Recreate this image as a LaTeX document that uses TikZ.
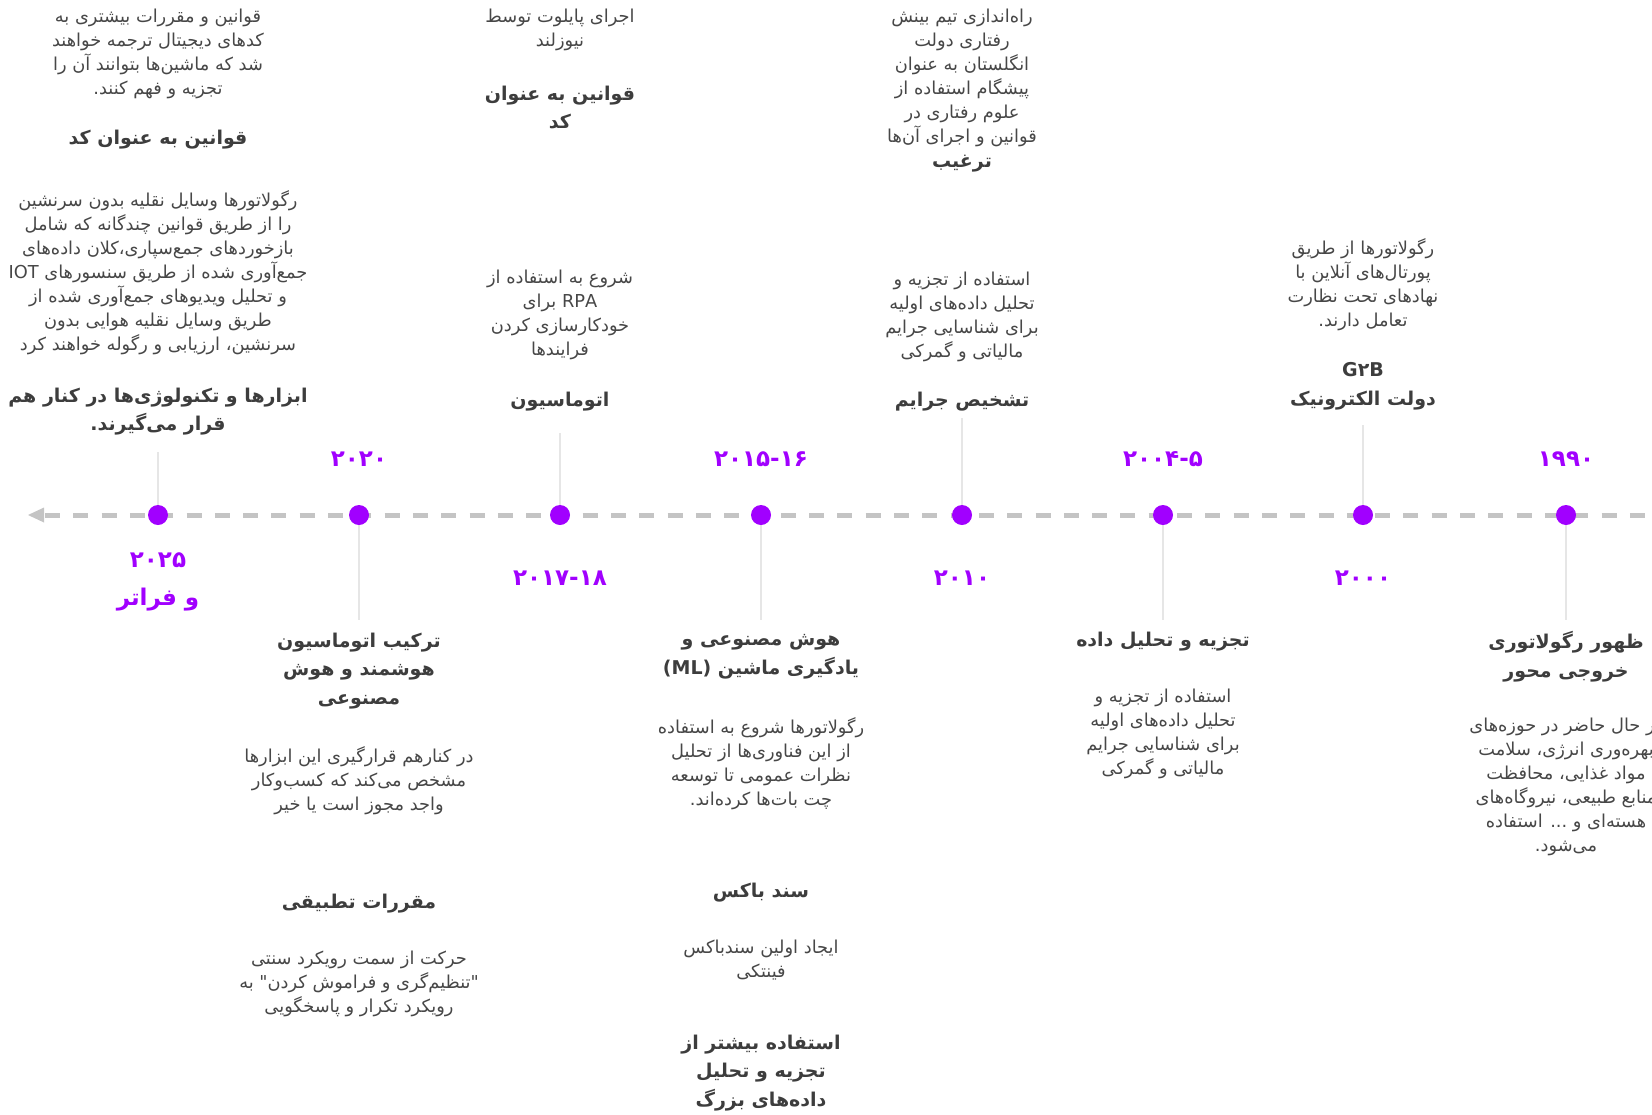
\documentclass[tikz,border=0pt]{standalone}
\usepackage{fontspec}
\TeXXeTstate=1
\newfontfamily\ar[Script=Arabic]{DejaVu Sans}
\definecolor{purp}{HTML}{A100FF}
\definecolor{axisgray}{HTML}{C4C4C4}
\definecolor{vgray}{HTML}{E6E6E6}
\definecolor{titlegray}{HTML}{3D3D3D}
\definecolor{bodygray}{HTML}{474747}
\newcommand\RL[1]{\beginR #1\endR}
\begin{document}
\begin{tikzpicture}[x=1pt,y=-1pt,
  body/.style={font=\ar\fontsize{17.8}{24}\selectfont, text=bodygray, align=center, inner sep=0pt},
  ttl/.style={font=\ar\bfseries\fontsize{19}{28.8}\selectfont, text=titlegray, align=center, inner sep=0pt},
  yr/.style={font=\ar\bfseries\fontsize{23}{38}\selectfont, text=purp, align=center, inner sep=0pt},
  dot/.style={circle, fill=purp, minimum size=20pt, inner sep=0pt},
  axisline/.style={draw=axisgray, line width=5pt, dash pattern=on 15pt off 13.3pt},
  vline/.style={draw=vgray, line width=1.5pt}]
\useasboundingbox (0,0) rectangle (1652,1114);
\clip (0,0) rectangle (1652,1114);

% axis
\coordinate (axT) at (28,515);
\coordinate (axB) at (45,515);
\coordinate (axR) at (1652,515);
\draw[axisline] (axB) -- (axR);
\fill[axisgray] (axT) -- ++(16,-7.5) -- ++(0,15) -- cycle;

% vertical line ends
\coordinate (v1) at (158,452);
\coordinate (v2) at (359,620);
\coordinate (v3) at (560,433);
\coordinate (v4) at (761,620);
\coordinate (v5) at (962,418);
\coordinate (v6) at (1163,620);
\coordinate (v7) at (1363,425);
\coordinate (v8) at (1566,620);

\foreach \i/\x in {1/158,2/359,3/560,4/761,5/962,6/1163,7/1363,8/1566}{
  \coordinate (c\i) at (\x,515);
  \draw[vline] (c\i) -- (v\i);
}

% dots
\node[dot] (d1) at (c1) {};
\node[dot] (d2) at (c2) {};
\node[dot] (d3) at (c3) {};
\node[dot] (d4) at (c4) {};
\node[dot] (d5) at (c5) {};
\node[dot] (d6) at (c6) {};
\node[dot] (d7) at (c7) {};
\node[dot] (d8) at (c8) {};

% ---- column 2025 ----
\node[body] (a1) at (158,53.5) {\RL{قوانین و مقررات بیشتری به}\\\RL{کدهای دیجیتال ترجمه خواهند}\\\RL{شد که ماشین^^^^200cها بتوانند آن را}\\\RL{تجزیه و فهم کنند.}};
\node[ttl] (a2) at (158,140) {\RL{قوانین به عنوان کد}};
\node[body] (a3) at (158,273) {\RL{رگولاتورها وسایل نقلیه بدون سرنشین}\\\RL{را از طریق قوانین چندگانه که شامل}\\\RL{بازخوردهای جمع^^^^200cسپاری،کلان داده^^^^200cهای}\\\RL{جمع^^^^200cآوری شده از طریق سنسورهای IOT}\\\RL{و تحلیل ویدیوهای جمع^^^^200cآوری شده از}\\\RL{طریق وسایل نقلیه هوایی بدون}\\\RL{سرنشین، ارزیابی و رگوله خواهند کرد}};
\node[ttl] (a4) at (158,411.5) {\RL{ابزارها و تکنولوژی^^^^200cها در کنار هم}\\\RL{قرار می^^^^200cگیرند.}};
\node[yr] (a5) at (158,582) {۲۰۲۵\\\RL{و فراتر}};

% ---- column 2020 ----
\node[yr] (b1) at (359,459) {۲۰۲۰};
\node[ttl] (b2) at (359,671) {\RL{ترکیب اتوماسیون}\\\RL{هوشمند و هوش}\\\RL{مصنوعی}};
\node[body] (b3) at (359,780.5) {\RL{در کنارهم قرارگیری این ابزارها}\\\RL{مشخص می^^^^200cکند که کسب^^^^200cوکار}\\\RL{واجد مجوز است یا خیر}};
\node[ttl] (b4) at (359,904) {\RL{مقررات تطبیقی}};
\node[body] (b5) at (359,984) {\RL{حرکت از سمت رویکرد سنتی}\\\RL{"تنظیم^^^^200cگری و فراموش کردن" به}\\\RL{رویکرد تکرار و پاسخگویی}};

% ---- column 2017-18 ----
\node[body] (c1t) at (560,29.5) {\RL{اجرای پایلوت توسط}\\\RL{نیوزلند}};
\node[ttl] (c2t) at (560,107.5) {\RL{قوانین به عنوان}\\\RL{کد}};
\node[body] (c3t) at (560,315) {\RL{شروع به استفاده از}\\\RL{\beginL RPA\endL{} برای}\\\RL{خودکارسازی کردن}\\\RL{فرایندها}};
\node[ttl] (c4t) at (560,402) {\RL{اتوماسیون}};
\node[yr] (c5t) at (560,578) {۲۰۱۷-۱۸};

% ---- column 2015-16 ----
\node[yr] (e1) at (761,459) {۲۰۱۵-۱۶};
\node[ttl] (e2) at (761,656.5) {\RL{هوش مصنوعی و}\\\RL{یادگیری ماشین \beginL(ML)\endL}};
\node[body] (e3) at (761,763.5) {\RL{رگولاتورها شروع به استفاده}\\\RL{از این فناوری^^^^200cها از تحلیل}\\\RL{نظرات عمومی تا توسعه}\\\RL{چت بات^^^^200cها کرده^^^^200cاند.}};
\node[ttl] (e4) at (761,893) {\RL{سند باکس}};
\node[body] (e5) at (761,960.5) {\RL{ایجاد اولین سندباکس}\\\RL{فینتکی}};
\node[ttl] (e6) at (761,1073) {\RL{استفاده بیشتر از}\\\RL{تجزیه و تحلیل}\\\RL{داده^^^^200cهای بزرگ}};

% ---- column 2010 ----
\node[body] (f1) at (962,77.5) {\RL{راه^^^^200cاندازی تیم بینش}\\\RL{رفتاری دولت}\\\RL{انگلستان به عنوان}\\\RL{پیشگام استفاده از}\\\RL{علوم رفتاری در}\\\RL{قوانین و اجرای آن^^^^200cها}};
\node[ttl] (f2) at (962,164) {\RL{ترغیب}};
\node[body] (f3) at (962,316.5) {\RL{استفاده از تجزیه و}\\\RL{تحلیل داده^^^^200cهای اولیه}\\\RL{برای شناسایی جرایم}\\\RL{مالیاتی و گمرکی}};
\node[ttl] (f4) at (962,402) {\RL{تشخیص جرایم}};
\node[yr] (f5) at (962,578) {۲۰۱۰};

% ---- column 2004-5 ----
\node[yr] (g1) at (1163,459) {۲۰۰۴-۵};
\node[ttl] (g2) at (1163,642) {\RL{تجزیه و تحلیل داده}};
\node[body] (g3) at (1163,733.5) {\RL{استفاده از تجزیه و}\\\RL{تحلیل داده^^^^200cهای اولیه}\\\RL{برای شناسایی جرایم}\\\RL{مالیاتی و گمرکی}};

% ---- column 2000 ----
\node[body] (h1) at (1363,285) {\RL{رگولاتورها از طریق}\\\RL{پورتال^^^^200cهای آنلاین با}\\\RL{نهادهای تحت نظارت}\\\RL{تعامل دارند.}};
\node[ttl] (h2) at (1363,386.5) {G۲B\\\RL{دولت الکترونیک}};
\node[yr] (h3) at (1363,578) {۲۰۰۰};

% ---- column 1990 ----
\node[yr] (k1) at (1566,459) {۱۹۹۰};
\node[ttl] (k2) at (1566,656.5) {\RL{ظهور رگولاتوری}\\\RL{خروجی محور}};
\node[body] (k3) at (1566,787) {\RL{در حال حاضر در حوزه^^^^200cهای}\\\RL{بهره^^^^200cوری انرژی، سلامت}\\\RL{مواد غذایی، محافظت}\\\RL{منابع طبیعی، نیروگاه^^^^200cهای}\\\RL{هسته^^^^200cای و ... استفاده}\\\RL{می^^^^200cشود.}};
\end{tikzpicture}
\end{document}
